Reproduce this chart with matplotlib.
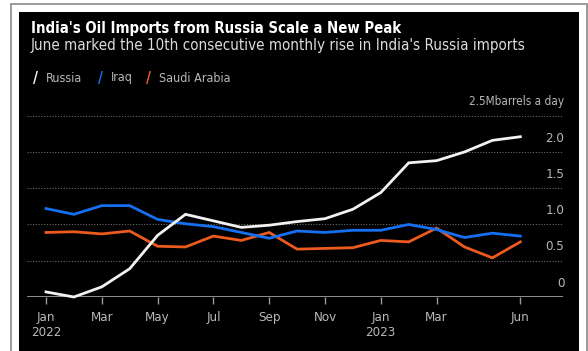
import matplotlib.pyplot as plt
from matplotlib.patches import Rectangle
import numpy as np

# monthly imports, million barrels a day, Jan 2022 - Jun 2023
russia = [0.07, 0.00, 0.14, 0.39, 0.85, 1.14, 1.05, 0.96, 0.99, 1.04, 1.08, 1.21,
          1.44, 1.85, 1.88, 2.00, 2.16, 2.21]
iraq = [1.22, 1.14, 1.26, 1.26, 1.07, 1.01, 0.97, 0.89, 0.81, 0.91, 0.89, 0.92,
        0.92, 1.00, 0.93, 0.82, 0.88, 0.84]
saudi = [0.89, 0.90, 0.87, 0.91, 0.70, 0.69, 0.84, 0.78, 0.89, 0.66, 0.67, 0.68,
         0.78, 0.76, 0.95, 0.69, 0.54, 0.76]

tick_pos = [0, 2, 4, 6, 8, 10, 12, 14, 17]
tick_labels = ['Jan\n2022', 'Mar', 'May', 'Jul', 'Sep', 'Nov', 'Jan\n2023', 'Mar', 'Jun']
y_ticks = [0, 0.5, 1.0, 1.5, 2.0]
y_tick_labels = ['0', '0.5', '1.0', '1.5', '2.0']

series = [('Russia', russia, '#f2f2f2'),
          ('Iraq', iraq, '#1470f0'),
          ('Saudi Arabia', saudi, '#ec5a1e')]

plt.rcParams['font.family'] = 'DejaVu Sans'
plt.rcParams['font.stretch'] = 'condensed'

W, H = 588, 351
fig = plt.figure(figsize=(W / 100, H / 100), dpi=100, facecolor='white')

def px(x, y, w, h):
    # pixel box (top-left origin) -> figure fraction
    return [x / W, 1 - (y + h) / H, w / W, h / H]

# outer frame and black card, kept behind the axes
b = px(10.5, 4.0, 576, 360)
fig.patches.append(Rectangle((b[0], b[1]), b[2], b[3], transform=fig.transFigure,
                             facecolor='white', edgecolor='#8a8a8a', lw=1.2, zorder=-2))
c = px(19, 12, 560, 345)
fig.patches.append(Rectangle((c[0], c[1]), c[2], c[3], transform=fig.transFigure,
                             facecolor='black', edgecolor='none', zorder=-1))

fig.text(31 / W, 1 - 29 / H, "India's Oil Imports from Russia Scale a New Peak",
         color='white', fontsize=10.7, fontweight='bold', va='center', ha='left')
fig.text(31 / W, 1 - 45.5 / H,
         "June marked the 10th consecutive monthly rise in India's Russia imports",
         color='#dcdcdc', fontsize=10.9, va='center', ha='left')

# legend with slash markers
leg_y = 1 - 78 / H
for x0, (name, _, col) in zip([33, 98, 146], series):
    fig.text(x0 / W, leg_y, '/', color=col, fontsize=11, fontweight='bold',
             va='center', ha='left')
    fig.text((x0 + 13) / W, leg_y, name, color='#b8b8b8', fontsize=9,
             va='center', ha='left')

ax = fig.add_axes(px(27, 115.7, 536, 181.3))
ax.set_facecolor('none')
step = 27.9
x0 = (27 - 46) / step
ax.set_xlim(x0, x0 + 536 / step)
ax.set_ylim(0, 2.5)

x = np.arange(len(russia))
for name, vals, col in series[::-1]:
    ax.plot(x, vals, color=col, lw=2.0, solid_joinstyle='miter', clip_on=False, zorder=3)

for yv in [0.5, 1.0, 1.5, 2.0, 2.5]:
    ax.axhline(yv, color='#6a6a6a', lw=0.8, ls=(0, (1, 1.5)), zorder=1)
ax.axhline(0, color='#9a9a9a', lw=1.3, zorder=2)

for s in ax.spines.values():
    s.set_visible(False)
ax.set_yticks([])
ax.set_xticks(tick_pos)
ax.set_xticklabels(tick_labels, color='#b8b8b8', fontsize=9.5, linespacing=1.2)
ax.tick_params(axis='x', length=5, width=1, color='#9a9a9a', pad=5)

for yv, lab in zip(y_ticks, y_tick_labels):
    ax.annotate(lab, xy=(1.0, yv), xycoords=('axes fraction', 'data'),
                xytext=(1, 10), textcoords='offset points',
                ha='right', va='center', color='#b8b8b8', fontsize=9.5)
ax.annotate('2.5Mbarrels a day', xy=(1.0, 2.5), xycoords=('axes fraction', 'data'),
            xytext=(1, 10.5), textcoords='offset points',
            ha='right', va='center', color='#b8b8b8', fontsize=8.5)

fig.savefig('out.png', dpi=100, facecolor='white')
